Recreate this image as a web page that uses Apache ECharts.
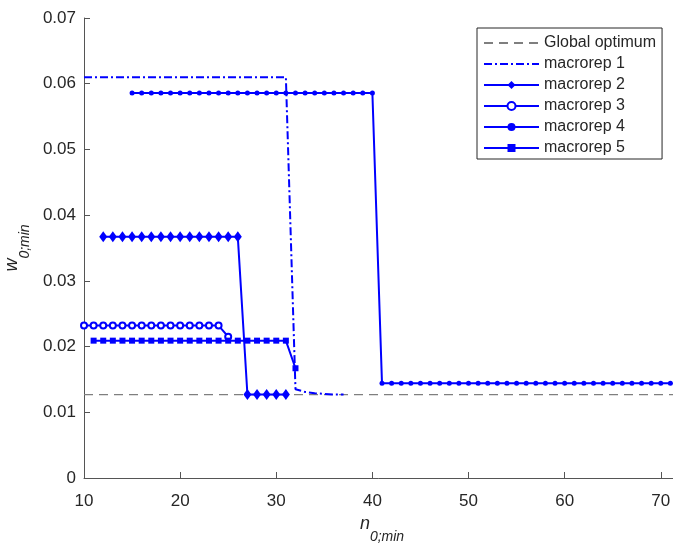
<!DOCTYPE html>
<html><head><meta charset="utf-8">
<script src="https://cdn.jsdelivr.net/npm/echarts@6/dist/echarts.min.js"></script>
<style>html,body{margin:0;padding:0;background:#fff}#c{width:673px;height:544px}</style>
</head><body><div id="c"></div>
<script>
// ---- data ----
const xTicks = [10, 20, 30, 40, 50, 60, 70];
const yTicks = [0, 0.01, 0.02, 0.03, 0.04, 0.05, 0.06, 0.07];
const seriesNames = ['Global optimum', 'macrorep 1', 'macrorep 2', 'macrorep 3', 'macrorep 4', 'macrorep 5'];

const optX = [10, 72];
const optY = [0.0127, 0.0127];

const m1X = [10,11,12,13,14,15,16,17,18,19,20,21,22,23,24,25,26,27,28,29,30,31,32,33,34,35,36,37];
const m1Y = [0.061,0.061,0.061,0.061,0.061,0.061,0.061,0.061,0.061,0.061,0.061,0.061,0.061,0.061,0.061,0.061,0.061,0.061,0.061,0.061,0.061,0.061,0.0135,0.0131,0.0129,0.0128,0.0127,0.0127];

const m2X = [12,13,14,15,16,17,18,19,20,21,22,23,24,25,26,27,28,29,30,31];
const m2Y = [0.0367,0.0367,0.0367,0.0367,0.0367,0.0367,0.0367,0.0367,0.0367,0.0367,0.0367,0.0367,0.0367,0.0367,0.0367,0.0127,0.0127,0.0127,0.0127,0.0127];

const m3X = [10,11,12,13,14,15,16,17,18,19,20,21,22,23,24,25];
const m3Y = [0.0232,0.0232,0.0232,0.0232,0.0232,0.0232,0.0232,0.0232,0.0232,0.0232,0.0232,0.0232,0.0232,0.0232,0.0232,0.0215];

const m4X = [15,16,17,18,19,20,21,22,23,24,25,26,27,28,29,30,31,32,33,34,35,36,37,38,39,40,41,42,43,44,45,46,47,48,49,50,51,52,53,54,55,56,57,58,59,60,61,62,63,64,65,66,67,68,69,70,71];
const m4Y = [0.0586,0.0586,0.0586,0.0586,0.0586,0.0586,0.0586,0.0586,0.0586,0.0586,0.0586,0.0586,0.0586,0.0586,0.0586,0.0586,0.0586,0.0586,0.0586,0.0586,0.0586,0.0586,0.0586,0.0586,0.0586,0.0586,
  0.0144,0.0144,0.0144,0.0144,0.0144,0.0144,0.0144,0.0144,0.0144,0.0144,0.0144,0.0144,0.0144,0.0144,0.0144,0.0144,0.0144,0.0144,0.0144,0.0144,0.0144,0.0144,0.0144,0.0144,0.0144,0.0144,0.0144,0.0144,0.0144,0.0144,0.0144];

const m5X = [11,12,13,14,15,16,17,18,19,20,21,22,23,24,25,26,27,28,29,30,31,32];
const m5Y = [0.0209,0.0209,0.0209,0.0209,0.0209,0.0209,0.0209,0.0209,0.0209,0.0209,0.0209,0.0209,0.0209,0.0209,0.0209,0.0209,0.0209,0.0209,0.0209,0.0209,0.0209,0.0167];

// ---- chart ----
const pairs = (xs, ys) => xs.map((x, i) => [x, ys[i]]);
const BLUE = '#0000ff';
const TXT = '#262626';
const FONT = '"Liberation Sans", Arial, Helvetica, sans-serif';

const chart = echarts.init(document.getElementById('c'), null, {renderer: 'canvas'});

function blueSeries(name, xs, ys, symbol, size, lineType, itemStyle) {
  return {
    name, type: 'line', data: pairs(xs, ys),
    symbol, symbolSize: size, showSymbol: symbol !== 'none',
    lineStyle: {color: BLUE, width: 2, type: lineType},
    itemStyle: Object.assign({color: BLUE}, itemStyle || {}),
    emphasis: {disabled: true}, z: 3
  };
}

chart.setOption({
  animation: false,
  backgroundColor: '#fff',
  textStyle: {fontFamily: FONT},
  grid: {left: 84, width: 596, top: 18, bottom: 66, containLabel: false, outerBoundsMode: 'none'},
  xAxis: {
    type: 'value', min: 10, max: 72, interval: 10,
    axisLine: {show: true, lineStyle: {color: '#555', width: 1}},
    axisTick: {show: true, inside: true, length: 6, lineStyle: {color: '#555'}},
    splitLine: {show: false},
    axisLabel: {fontSize: 17, color: TXT, margin: 15, fontFamily: FONT, showMaxLabel: false,
      formatter: v => xTicks.includes(v) ? String(v) : ''},
    name: '{n|n}{s|0;min}', nameLocation: 'middle', nameGap: 35,
    nameTextStyle: {rich: {
      n: {fontSize: 18, fontStyle: 'italic', color: TXT, fontFamily: FONT, padding: [0, 0, 13, 0]},
      s: {fontSize: 14, fontStyle: 'italic', color: TXT, fontFamily: FONT, padding: [13, 0, 0, 0]}
    }}
  },
  yAxis: {
    type: 'value', min: 0, max: 0.07, interval: 0.01,
    axisLine: {show: true, lineStyle: {color: '#555', width: 1}},
    axisTick: {show: true, inside: true, length: 6, lineStyle: {color: '#555'}},
    splitLine: {show: false},
    axisLabel: {fontSize: 17, color: TXT, margin: 8, fontFamily: FONT,
      formatter: v => { const t = yTicks.find(q => Math.abs(q - v) < 1e-9); return t === undefined ? '' : (t === 0 ? '0' : t.toFixed(2)); }},
    name: '{n|w}{s|0;min}', nameLocation: 'middle', nameGap: 46, nameRotate: 90,
    nameTextStyle: {rich: {
      n: {fontSize: 18, fontStyle: 'italic', color: TXT, fontFamily: FONT, padding: [0, 0, 13, 0]},
      s: {fontSize: 14, fontStyle: 'italic', color: TXT, fontFamily: FONT, padding: [13, 0, 0, 0]}
    }}
  },
  legend: {
    data: [
      {name: seriesNames[0], itemStyle: {opacity: 0}},
      {name: seriesNames[1], itemStyle: {opacity: 0}},
      {name: seriesNames[2]},
      {name: seriesNames[3]},
      {name: seriesNames[4]},
      {name: seriesNames[5]}
    ],
    orient: 'vertical', left: 477, top: 28,
    backgroundColor: '#fff', borderColor: '#262626', borderWidth: 1,
    padding: [7, 6, 3, 6],
    itemWidth: 55, itemHeight: 10, itemGap: 5,
    textStyle: {fontSize: 16, color: TXT, fontFamily: FONT},
    selectedMode: false
  },
  series: [
    {
      name: seriesNames[0], type: 'line', data: pairs(optX, optY), symbol: 'none',
      lineStyle: {color: '#7f7f7f', width: 1.2, type: [9, 6]},
      itemStyle: {color: '#7f7f7f'}, emphasis: {disabled: true}, z: 2
    },
    blueSeries(seriesNames[1], m1X, m1Y, 'none', 0, [8, 3, 2, 3]),
    blueSeries(seriesNames[2], m2X, m2Y, 'diamond', [8, 11], 'solid', {borderWidth: 0}),
    blueSeries(seriesNames[3], m3X, m3Y, 'emptyCircle', 6, 'solid', {borderColor: BLUE, borderWidth: 1.6}),
    blueSeries(seriesNames[4], m4X, m4Y, 'circle', 5, 'solid', {borderWidth: 0}),
    blueSeries(seriesNames[5], m5X, m5Y, 'rect', 6, 'solid', {borderWidth: 0})
  ]
});
</script>
</body></html>
